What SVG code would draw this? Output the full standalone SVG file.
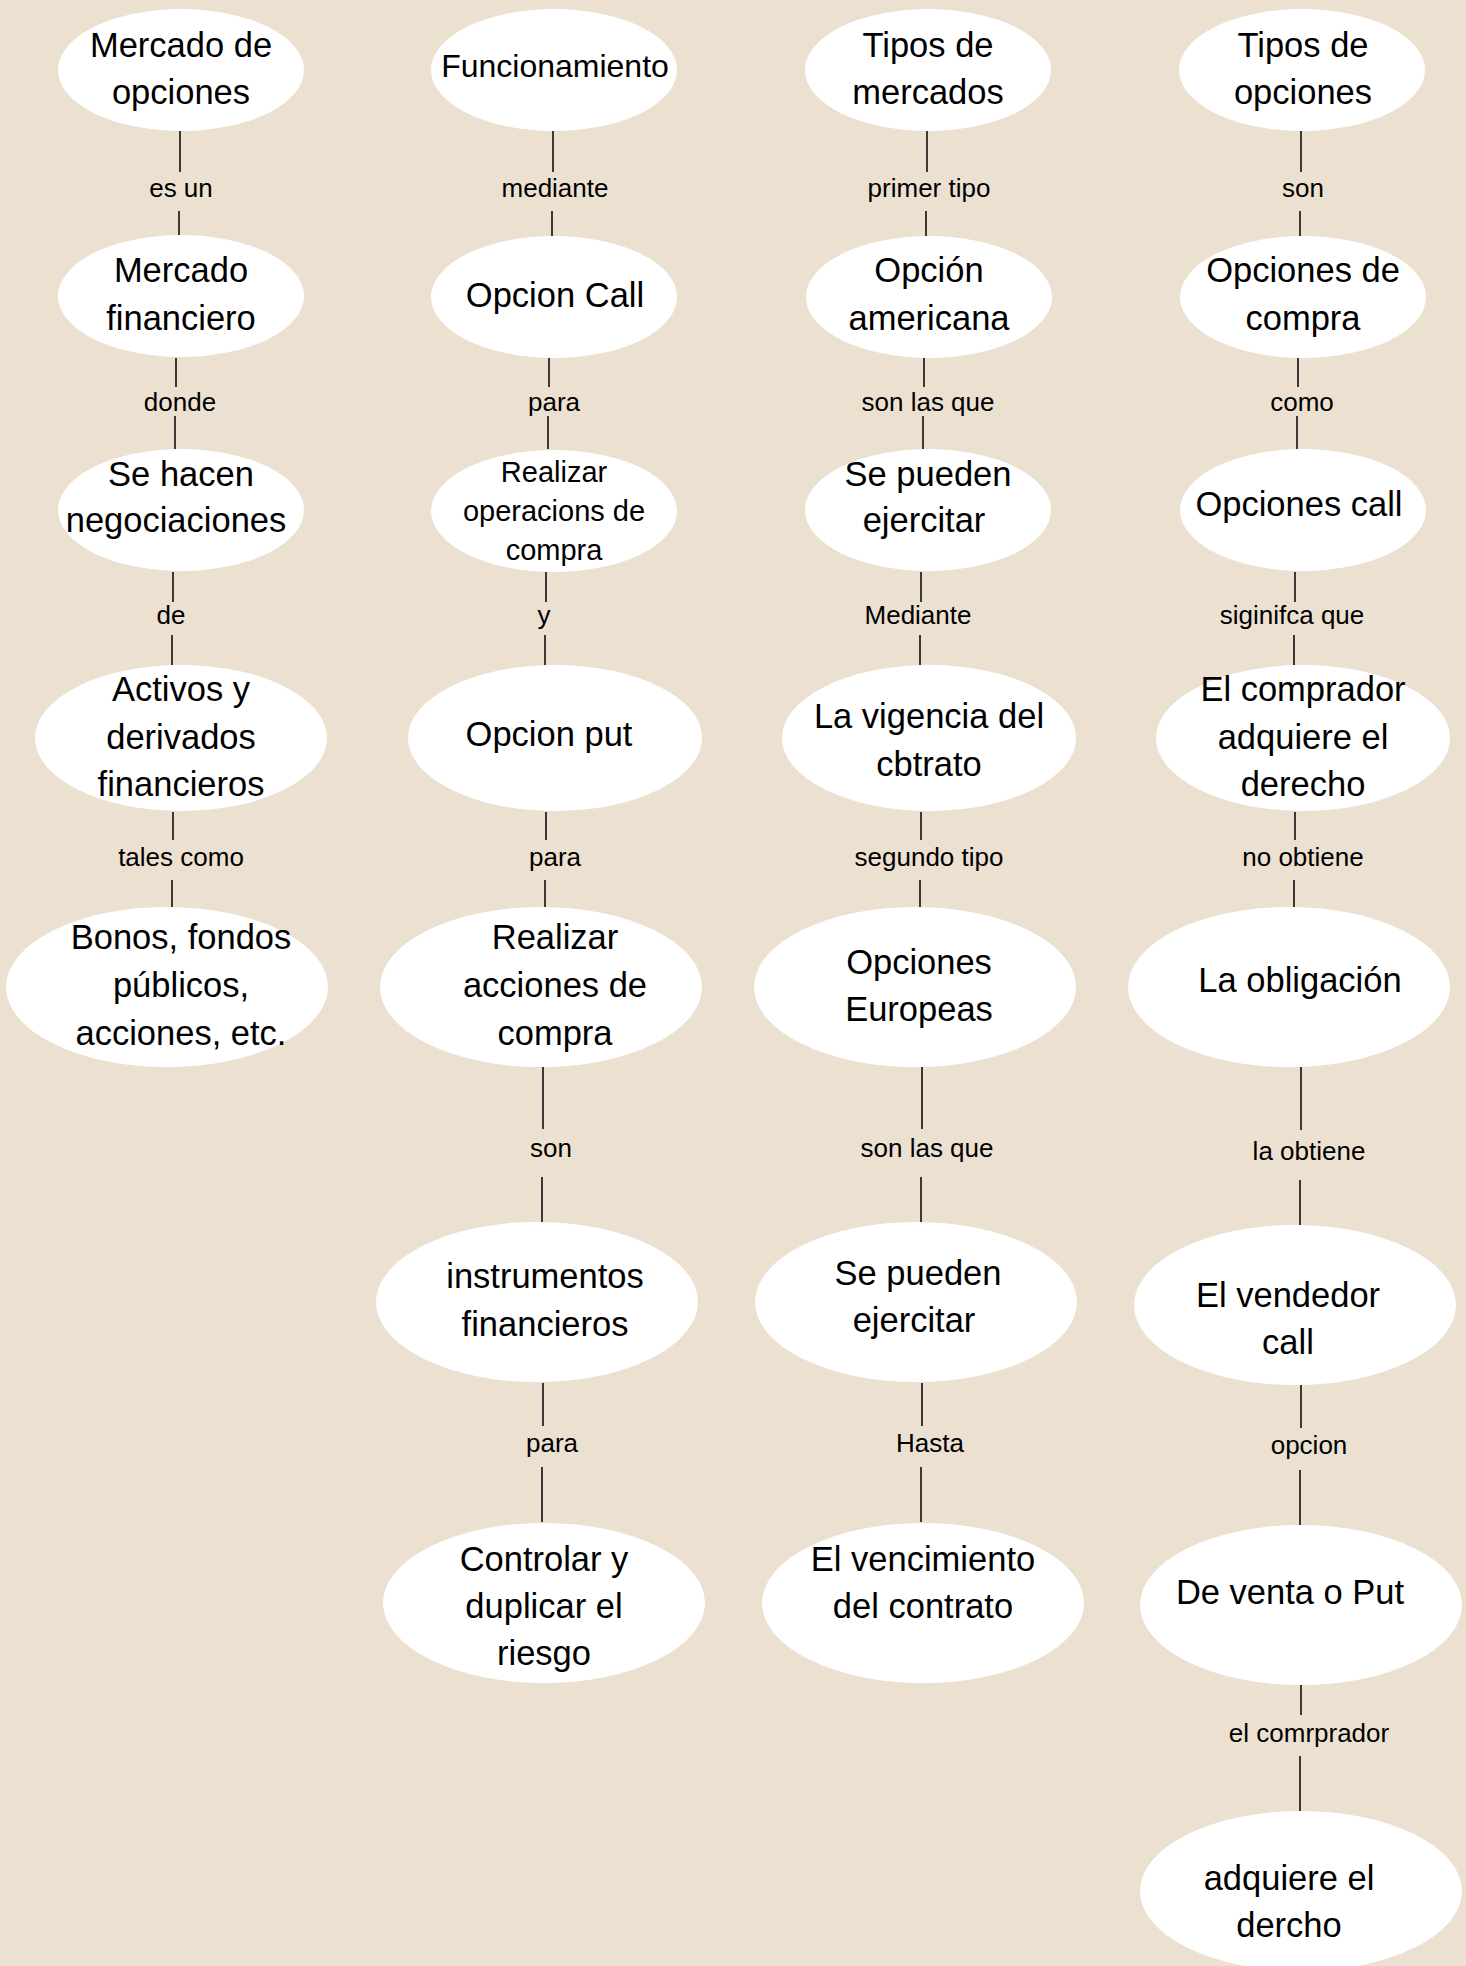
<svg xmlns="http://www.w3.org/2000/svg" width="1466" height="1966" viewBox="0 0 1466 1966">
<style>
.bg{fill:#ECE0D1}
.n ellipse{fill:#FFFFFF;stroke:none}
.n text{font-family:"Liberation Sans",Arial,sans-serif;font-size:34.5px;fill:#000;text-anchor:middle}
.n text.s{font-size:29px}
.n text.m{font-size:32px}
.c line{stroke:#000;stroke-width:1.5}
.c text{font-family:"Liberation Sans",Arial,sans-serif;font-size:26px;fill:#000;text-anchor:middle}
</style>
<rect class="bg" x="0" y="0" width="1466" height="1966"/>

<g id="connectors" class="c">
  <!-- column 1 -->
  <g id="e-c1-1"><line x1="180" y1="131" x2="180" y2="172"/><text x="181" y="197">es un</text><line x1="179" y1="211" x2="179" y2="236"/></g>
  <g id="e-c1-2"><line x1="176" y1="358" x2="176" y2="387"/><text x="180" y="411">donde</text><line x1="175" y1="416" x2="175" y2="449"/></g>
  <g id="e-c1-3"><line x1="173" y1="572" x2="173" y2="602"/><text x="171" y="624">de</text><line x1="172" y1="635" x2="172" y2="665"/></g>
  <g id="e-c1-4"><line x1="173" y1="812" x2="173" y2="840"/><text x="181" y="866">tales como</text><line x1="172" y1="880" x2="172" y2="907"/></g>
  <!-- column 2 -->
  <g id="e-c2-1"><line x1="553" y1="131" x2="553" y2="172"/><text x="555" y="197">mediante</text><line x1="552" y1="211" x2="552" y2="236"/></g>
  <g id="e-c2-2"><line x1="549" y1="358" x2="549" y2="387"/><text x="554" y="411">para</text><line x1="548" y1="416" x2="548" y2="449"/></g>
  <g id="e-c2-3"><line x1="546" y1="572" x2="546" y2="602"/><text x="544" y="624">y</text><line x1="545" y1="635" x2="545" y2="665"/></g>
  <g id="e-c2-4"><line x1="546" y1="812" x2="546" y2="840"/><text x="555" y="866">para</text><line x1="545" y1="880" x2="545" y2="907"/></g>
  <g id="e-c2-5"><line x1="543" y1="1067" x2="543" y2="1129"/><text x="551" y="1157">son</text><line x1="542" y1="1177" x2="542" y2="1222"/></g>
  <g id="e-c2-6"><line x1="543" y1="1383" x2="543" y2="1426"/><text x="552" y="1452">para</text><line x1="542" y1="1467" x2="542" y2="1522"/></g>
  <!-- column 3 -->
  <g id="e-c3-1"><line x1="927" y1="131" x2="927" y2="172"/><text x="929" y="197">primer tipo</text><line x1="926" y1="211" x2="926" y2="236"/></g>
  <g id="e-c3-2"><line x1="924" y1="358" x2="924" y2="387"/><text x="928" y="411">son las que</text><line x1="923" y1="416" x2="923" y2="449"/></g>
  <g id="e-c3-3"><line x1="921" y1="572" x2="921" y2="602"/><text x="918" y="624">Mediante</text><line x1="920" y1="635" x2="920" y2="665"/></g>
  <g id="e-c3-4"><line x1="921" y1="812" x2="921" y2="840"/><text x="929" y="866">segundo tipo</text><line x1="920" y1="880" x2="920" y2="907"/></g>
  <g id="e-c3-5"><line x1="922" y1="1067" x2="922" y2="1129"/><text x="927" y="1157">son las que</text><line x1="921" y1="1177" x2="921" y2="1222"/></g>
  <g id="e-c3-6"><line x1="922" y1="1383" x2="922" y2="1426"/><text x="930" y="1452">Hasta</text><line x1="921" y1="1467" x2="921" y2="1522"/></g>
  <!-- column 4 -->
  <g id="e-c4-1"><line x1="1301" y1="131" x2="1301" y2="172"/><text x="1303" y="197">son</text><line x1="1300" y1="211" x2="1300" y2="236"/></g>
  <g id="e-c4-2"><line x1="1298" y1="358" x2="1298" y2="387"/><text x="1302" y="411">como</text><line x1="1297" y1="416" x2="1297" y2="449"/></g>
  <g id="e-c4-3"><line x1="1295" y1="572" x2="1295" y2="602"/><text x="1292" y="624">siginifca que</text><line x1="1294" y1="635" x2="1294" y2="665"/></g>
  <g id="e-c4-4"><line x1="1295" y1="812" x2="1295" y2="840"/><text x="1303" y="866">no obtiene</text><line x1="1294" y1="880" x2="1294" y2="907"/></g>
  <g id="e-c4-5"><line x1="1301" y1="1067" x2="1301" y2="1130"/><text x="1309" y="1160">la obtiene</text><line x1="1300" y1="1180" x2="1300" y2="1225"/></g>
  <g id="e-c4-6"><line x1="1301" y1="1385" x2="1301" y2="1428"/><text x="1309" y="1454">opcion</text><line x1="1300" y1="1470" x2="1300" y2="1525"/></g>
  <g id="e-c4-7"><line x1="1301" y1="1685" x2="1301" y2="1715"/><text x="1309" y="1742">el comrprador</text><line x1="1300" y1="1756" x2="1300" y2="1811"/></g>
</g>

<!-- Column 1 -->
<g id="n-mercado-opciones" class="n"><ellipse cx="181" cy="70" rx="123" ry="61"/><text x="181" y="57">Mercado de</text><text x="181" y="104">opciones</text></g>
<g id="n-mercado-financiero" class="n"><ellipse cx="181" cy="296" rx="123" ry="61"/><text x="181" y="282">Mercado</text><text x="181" y="330">financiero</text></g>
<g id="n-se-hacen" class="n"><ellipse cx="181" cy="510" rx="123" ry="61"/><text x="181" y="486">Se hacen</text><text x="176" y="532">negociaciones</text></g>
<g id="n-activos" class="n"><ellipse cx="181" cy="738" rx="146" ry="73"/><text x="181" y="701">Activos y</text><text x="181" y="749">derivados</text><text x="181" y="796">financieros</text></g>
<g id="n-bonos" class="n"><ellipse cx="167" cy="987" rx="161" ry="80"/><text x="181" y="949">Bonos, fondos</text><text x="181" y="997">públicos,</text><text x="181" y="1045">acciones, etc.</text></g>

<!-- Column 2 -->
<g id="n-funcionamiento" class="n"><ellipse cx="554" cy="70" rx="123" ry="61"/><text class="m" x="555" y="77">Funcionamiento</text></g>
<g id="n-opcion-call" class="n"><ellipse cx="554" cy="297" rx="123" ry="61"/><text x="555" y="307">Opcion Call</text></g>
<g id="n-realizar-operacions" class="n"><ellipse cx="554" cy="511" rx="123" ry="61"/><text class="s" x="554" y="482">Realizar</text><text class="s" x="554" y="521">operacions de</text><text class="s" x="554" y="560">compra</text></g>
<g id="n-opcion-put" class="n"><ellipse cx="555" cy="738" rx="147" ry="73"/><text x="549" y="746">Opcion put</text></g>
<g id="n-realizar-acciones" class="n"><ellipse cx="541" cy="987" rx="161" ry="80"/><text x="555" y="949">Realizar</text><text x="555" y="997">acciones de</text><text x="555" y="1045">compra</text></g>
<g id="n-instrumentos" class="n"><ellipse cx="537" cy="1302" rx="161" ry="80"/><text x="545" y="1288">instrumentos</text><text x="545" y="1336">financieros</text></g>
<g id="n-controlar" class="n"><ellipse cx="544" cy="1603" rx="161" ry="80"/><text x="544" y="1571">Controlar y</text><text x="544" y="1618">duplicar el</text><text x="544" y="1665">riesgo</text></g>

<!-- Column 3 -->
<g id="n-tipos-mercados" class="n"><ellipse cx="928" cy="70" rx="123" ry="61"/><text x="928" y="57">Tipos de</text><text x="928" y="104">mercados</text></g>
<g id="n-opcion-americana" class="n"><ellipse cx="929" cy="297" rx="123" ry="61"/><text x="929" y="282">Opción</text><text x="929" y="330">americana</text></g>
<g id="n-se-pueden-1" class="n"><ellipse cx="928" cy="510" rx="123" ry="61"/><text x="928" y="486">Se pueden</text><text x="924" y="532">ejercitar</text></g>
<g id="n-vigencia" class="n"><ellipse cx="929" cy="738" rx="147" ry="73"/><text x="929" y="728">La vigencia del</text><text x="929" y="776">cbtrato</text></g>
<g id="n-europeas" class="n"><ellipse cx="915" cy="987" rx="161" ry="80"/><text x="919" y="974">Opciones</text><text x="919" y="1021">Europeas</text></g>
<g id="n-se-pueden-2" class="n"><ellipse cx="916" cy="1302" rx="161" ry="80"/><text x="918" y="1285">Se pueden</text><text x="914" y="1332">ejercitar</text></g>
<g id="n-vencimiento" class="n"><ellipse cx="923" cy="1603" rx="161" ry="80"/><text x="923" y="1571">El vencimiento</text><text x="923" y="1618">del contrato</text></g>

<!-- Column 4 -->
<g id="n-tipos-opciones" class="n"><ellipse cx="1302" cy="70" rx="123" ry="61"/><text x="1303" y="57">Tipos de</text><text x="1303" y="104">opciones</text></g>
<g id="n-opciones-compra" class="n"><ellipse cx="1303" cy="297" rx="123" ry="61"/><text x="1303" y="282">Opciones de</text><text x="1303" y="330">compra</text></g>
<g id="n-opciones-call" class="n"><ellipse cx="1303" cy="510" rx="123" ry="61"/><text x="1299" y="516">Opciones call</text></g>
<g id="n-comprador" class="n"><ellipse cx="1303" cy="738" rx="147" ry="73"/><text x="1303" y="701">El comprador</text><text x="1303" y="749">adquiere el</text><text x="1303" y="796">derecho</text></g>
<g id="n-obligacion" class="n"><ellipse cx="1289" cy="987" rx="161" ry="80"/><text x="1300" y="992">La obligación</text></g>
<g id="n-vendedor" class="n"><ellipse cx="1295" cy="1305" rx="161" ry="80"/><text x="1288" y="1307">El vendedor</text><text x="1288" y="1354">call</text></g>
<g id="n-venta-put" class="n"><ellipse cx="1301" cy="1605" rx="161" ry="80"/><text x="1290" y="1604">De venta o Put</text></g>
<g id="n-adquiere" class="n"><ellipse cx="1301" cy="1891" rx="161" ry="80"/><text x="1289" y="1890">adquiere el</text><text x="1289" y="1937">dercho</text></g>
</svg>
